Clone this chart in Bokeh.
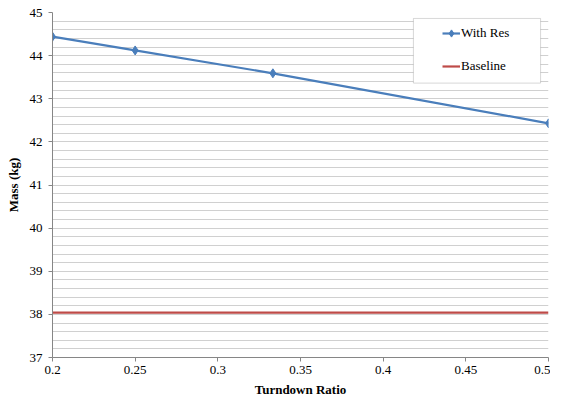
from bokeh.plotting import figure
from bokeh.models import (Range1d, FixedTicker, Legend, LegendItem, BoxAnnotation)
from bokeh.embed import file_html
from bokeh.resources import INLINE

# ---- data ----
turndown = [0.2, 0.25, 0.3333, 0.5]
with_res = [44.44, 44.12, 43.59, 42.43]
baseline = [38.04, 38.04, 38.04, 38.04]
x_ticks = [0.2, 0.25, 0.3, 0.35, 0.4, 0.45, 0.5]
x_tick_labels = ["0.2", "0.25", "0.3", "0.35", "0.4", "0.45", "0.5"]
y_ticks = [37, 38, 39, 40, 41, 42, 43, 44, 45]
y_minor = [round(37 + 0.2 * i, 1) for i in range(41) if i % 5 != 0]

FONT = "Liberation Serif"
AXIS_C = "#868686"
BLUE = "#4a7ebb"
RED = "#be4b48"

p = figure(width=550, height=399, output_backend="svg", toolbar_location=None,
           x_range=Range1d(0.2, 0.5), y_range=Range1d(37, 45),
           min_border_left=52, min_border_right=2, min_border_top=12, min_border_bottom=0)
p.outline_line_color = None
p.background_fill_color = "white"
p.border_fill_color = "white"

# axes
p.xaxis.ticker = FixedTicker(ticks=x_ticks, minor_ticks=[])
p.xaxis.major_label_overrides = {t: l for t, l in zip(x_ticks, x_tick_labels)}
p.yaxis.ticker = FixedTicker(ticks=y_ticks, minor_ticks=y_minor)
for ax in (p.xaxis[0], p.yaxis[0]):
    ax.axis_line_color = AXIS_C
    ax.major_tick_line_color = AXIS_C
    ax.major_tick_out = 4
    ax.major_tick_in = 0
    ax.minor_tick_out = 0
    ax.minor_tick_in = 0
    ax.major_label_text_font = FONT
    ax.major_label_text_font_size = "13px"
    ax.major_label_text_color = "black"
    ax.axis_label_text_font = FONT
    ax.axis_label_text_font_size = "13px"
    ax.axis_label_text_font_style = "bold"
    ax.axis_label_text_color = "black"
p.xaxis.axis_label = "Turndown Ratio"
p.yaxis.axis_label = "Mass (kg)"
p.xaxis.major_label_standoff = 4
p.xaxis.axis_label_standoff = 5
p.yaxis.major_label_standoff = 6
p.yaxis.axis_label_standoff = 6

# grid
p.xgrid.grid_line_color = None
p.ygrid.grid_line_color = "#d0d0d0"
p.ygrid.minor_grid_line_color = "#d0d0d0"
p.ygrid.grid_line_width = 1
p.ygrid.minor_grid_line_width = 1

# series
l1 = p.line(turndown, with_res, line_color=BLUE, line_width=2.2)
m1 = p.scatter(turndown, with_res, marker="diamond", size=9,
               fill_color=BLUE, line_color=BLUE)
l2 = p.line(turndown, baseline, line_color=RED, line_width=2.2)

# legend box
box = BoxAnnotation(left=0.4183, right=0.4952, top=44.862, bottom=43.363,
                    fill_color="white", fill_alpha=1.0,
                    line_color="#7f7f7f", line_width=1)
p.add_layout(box)

legend = Legend(items=[LegendItem(label="With Res", renderers=[l1, m1]),
                       LegendItem(label="Baseline", renderers=[l2])],
                location=(390, 281), orientation="vertical",
                border_line_color=None, background_fill_alpha=0,
                padding=0, margin=0, spacing=13,
                glyph_width=18, glyph_height=20, label_height=20,
                label_standoff=1,
                label_text_font=FONT, label_text_font_size="13px",
                label_text_color="black")
p.add_layout(legend)

open("out.html", "w").write(file_html(p, INLINE))
